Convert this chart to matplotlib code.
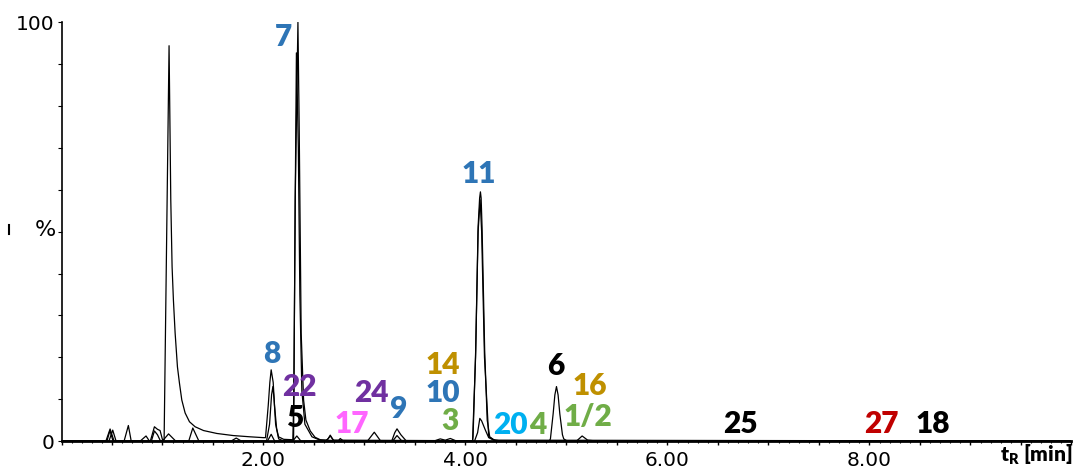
import numpy as np
import matplotlib
matplotlib.use("Agg")
import matplotlib.pyplot as plt
from matplotlib.lines import Line2D
from matplotlib.ticker import MultipleLocator, FuncFormatter

# chromatogram traces, vertices (t_R in min, intensity in %)
trace_a_t = [0.00, 0.44, 0.481, 0.52, 0.62, 0.662, 0.69, 0.88, 0.92, 0.95, 0.976, 1.00,
             1.016, 1.065, 1.082, 1.095, 1.108, 1.125, 1.148, 1.168, 1.191, 1.224, 1.267,
             1.323, 1.406, 1.538, 1.70, 1.868, 2.00,
             2.02, 2.047, 2.063, 2.076, 2.096, 2.109, 2.13, 2.149, 2.20,
             2.29, 2.298, 2.314, 2.341, 2.354, 2.373, 2.397, 2.42, 2.463, 2.51, 2.562, 2.62,
             2.64, 2.661, 2.69, 3.70, 3.75, 3.80, 3.85, 3.90, 4.07, 4.075, 4.101, 4.125,
             4.14, 4.148, 4.155, 4.164, 4.19, 4.215, 4.24, 4.28, 4.35, 4.83, 4.841, 4.868,
             4.885, 4.901, 4.917, 4.934, 4.96, 4.973, 5.00, 5.10, 5.155, 5.21, 5.30, 10.0]
trace_a_i = [0, 0, 2.87, 0, 0, 3.7, 0, 0, 3.4, 2.8, 2.5, 0.3,
             0.3, 94.4, 57.6, 41.6, 33.7, 25.8, 17.7, 13.8, 9.8, 6.7, 4.6,
             3.4, 2.5, 1.8, 1.3, 1.0, 0.8,
             0.8, 8.5, 14, 17, 14, 8.5, 3, 1, 0.4,
             0.3, 0.3, 57.6, 100, 73.6, 25.8, 9.8, 5, 2.4, 0.9, 0.3, 0.2,
             0.5, 1.4, 0.2, 0.1, 0.5, 0.2, 0.6, 0.1, 0, 1, 21.7, 51.2,
             58, 59.5, 58, 51.2, 21.7, 5, 1, 0.3, 0, 0, 0.5, 6.5,
             11, 13, 11, 6.5, 1.5, 0.5, 0.1, 0, 1.2, 0.2, 0, 0]

trace_b_t = [0.00, 0.47, 0.507, 0.54, 1.00, 1.06, 1.13, 1.26, 1.30, 1.36, 1.68, 1.73,
             1.78, 2.03, 2.06, 2.08, 2.093, 2.105, 2.12, 2.15, 2.20, 2.29, 2.30, 2.315,
             2.326, 2.345, 2.36, 2.38, 2.41, 2.48, 2.56, 3.03, 3.097, 3.16, 3.27, 3.30,
             3.322, 3.36, 3.414, 4.07, 4.10, 4.125, 4.145, 4.16, 4.188, 4.23, 4.30, 10.0]
trace_b_i = [0, 0, 2.6, 0, 0, 1.7, 0, 0, 3.1, 0, 0, 0.7,
             0, 0, 4, 11, 13, 10, 4, 0.5, 0, 0, 10, 60,
             92.7, 70, 35, 12, 4, 1, 0.2, 0, 2.1, 0, 0, 2,
             2.9, 1.5, 0, 0, 20, 50, 57.6, 50, 20, 1, 0, 0]

trace_c_t = [0.00, 0.45, 0.48, 0.51, 0.78, 0.837, 0.87, 0.89, 0.92, 0.95, 0.98, 2.04,
             2.076, 2.11, 2.29, 2.33, 2.37, 2.62, 2.661, 2.70, 2.74, 2.76, 2.79, 3.28,
             3.322, 3.37, 4.09, 4.12, 4.142, 4.16, 4.197, 4.23, 4.28, 10.0]
trace_c_i = [0, 0, 2.5, 0, 0, 1.2, 0, 0, 2.4, 1.5, 0, 0,
             1.6, 0, 0, 1.2, 0, 0, 1.2, 0, 0, 0.6, 0, 0,
             1.3, 0, 0, 2, 5.4, 4.8, 2.6, 0.8, 0.2, 0]

# compound labels: text, t_R position, height position, colour
labels = ['7', '8', '22', '5', '17', '24', '9', '14', '10', '3', '11',
          '20', '4', '6', '16', '1/2', '25', '27', '18']
label_t = [2.195, 2.086, 2.351, 2.307, 2.871, 3.066, 3.335, 3.776, 3.776, 3.85, 4.131,
           4.45, 4.713, 4.891, 5.228, 5.213, 6.724, 8.12, 8.632]
label_i = [96.4, 20.8, 12.9, 5.4, 4.1, 11.4, 7.6, 18.2, 11.4, 4.8, 63.8,
           3.9, 3.9, 17.9, 13.2, 5.7, 4.1, 4.1, 4.1]
blue, purple, pink, gold = '#2E75B6', '#7030A0', '#FF66FF', '#BF9000'
green, cyan, red = '#70AD47', '#00B0F0', '#C00000'
label_colors = [blue, blue, purple, 'black', pink, purple, blue, gold, blue, green, blue,
                cyan, green, 'black', gold, green, 'black', red, 'black']

plt.rcParams['mathtext.fontset'] = 'custom'
plt.rcParams['mathtext.rm'] = 'Lato'
plt.rcParams['mathtext.bf'] = 'Lato:heavy'

fig = plt.figure(figsize=(10.79, 4.70), dpi=100)
ax = fig.add_axes([0.057, 0.0617, 0.936, 0.8909])

for tt, ii in [(trace_a_t, trace_a_i), (trace_b_t, trace_b_i), (trace_c_t, trace_c_i)]:
    ax.plot(tt, ii, color='black', lw=0.9)

for txt, t, i, c in zip(labels, label_t, label_i, label_colors):
    ax.text(t, i, txt, color=c, fontsize=21.5, fontweight='heavy', family='Lato',
            ha='center', va='center', clip_on=False)

ax.set_xlim(0, 10)
ax.set_ylim(0, 100)
ax.spines['top'].set_visible(False)
ax.spines['right'].set_visible(False)
ax.spines['bottom'].set_linewidth(2)
ax.spines['left'].set_linewidth(1.2)

ax.xaxis.set_major_locator(MultipleLocator(0.5))
ax.xaxis.set_minor_locator(MultipleLocator(0.1))
ax.xaxis.set_major_formatter(FuncFormatter(
    lambda v, p: f'{v:.2f}' if abs(v - round(v)) < 1e-6 and round(v) in (2, 4, 6, 8) else ''))
ax.yaxis.set_major_locator(MultipleLocator(10))
ax.yaxis.set_major_formatter(FuncFormatter(
    lambda v, p: f'{v:.0f}' if round(v) in (0, 100) else ''))
ax.tick_params(axis='x', which='major', length=3, width=1, pad=4, labelsize=14.5)
ax.tick_params(axis='x', which='minor', length=1.5, width=0.8)
ax.tick_params(axis='y', which='major', length=3, width=0.8, pad=2, labelsize=14.5)

fig.text(0.0417, 0.511, '%', fontsize=16, ha='center', va='center')
fig.add_artist(Line2D([9 / 1079, 9 / 1079], [1 - 225 / 470, 1 - 234 / 470],
                      color='black', lw=1.5))
fig.text(0.9935, 0.032, r'$\mathbf{t_R}$ [min]', fontsize=15, fontweight='heavy',
         family='Lato', ha='right', va='center')

fig.savefig('out.png', dpi=100)
